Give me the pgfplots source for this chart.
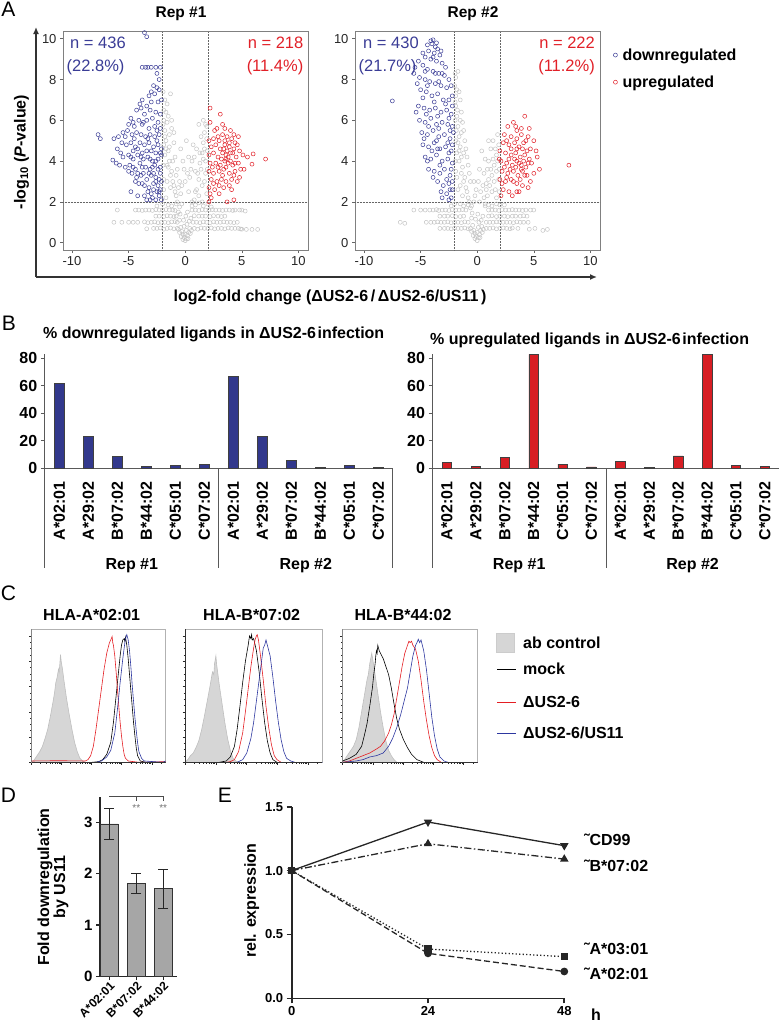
\documentclass[border=0pt]{standalone}
\usepackage{pgfplots}
\pgfplotsset{compat=1.18}
\usepackage{fontspec}
\setmainfont{Liberation Sans}
\usetikzlibrary{arrows.meta}
\newcommand{\fs}[1]{\fontsize{#1}{#1}\selectfont}
\definecolor{vblue}{RGB}{58,60,150}
\definecolor{vred}{RGB}{225,32,40}
\definecolor{vgray}{RGB}{196,196,196}
\definecolor{bblue}{RGB}{50,56,140}
\definecolor{bred}{RGB}{215,30,36}
\definecolor{hblue}{RGB}{45,55,160}
\definecolor{hred}{RGB}{228,30,35}
\pgfplotsset{
  volc/.style={scale only axis, width=245pt, height=219pt, anchor=south west,
    xmin=-10.8, xmax=10.85, ymin=-0.36, ymax=10.38,
    xtick={-10,-5,0,5,10}, xticklabels={-10,-5,0,5,10},
    ytick={0,2,4,6,8,10}, yticklabels={0,2,4,6,8,10},
    tick align=outside, tick pos=left, major tick length=3pt,
    axis line style={black!50, line width=0.6pt}, tick style={black!60, line width=0.6pt},
    tick label style={font=\fs{13}, text=black!85},
    every axis plot/.append style={only marks, mark=o, mark size=2pt, mark options={line width=0.5pt}}},
  barax/.style={scale only axis, height=114.8pt, anchor=south west,
    xmin=-0.5, xmax=11.5, ymin=0, ymax=83.5,
    axis lines=left, axis line style={-, black!65, line width=0.8pt},
    xtick={0,...,11},
    xticklabels={A*02:01,A*29:02,B*07:02,B*44:02,C*05:01,C*07:02,A*02:01,A*29:02,B*07:02,B*44:02,C*05:01,C*07:02},
    xtick style={draw=none},
    ytick={0,20,40,60,80}, yticklabels={0,20,40,60,80},
    ytick style={black!65, line width=0.8pt}, tick align=outside, major tick length=4pt,
    xticklabel style={rotate=90, anchor=east, font=\bfseries\fs{16}},
    yticklabel style={font=\bfseries\fs{16}},
    xticklabel shift=6pt, clip=false},
  hist/.style={scale only axis, height=133pt, anchor=south west,
    xmin=0, xmax=1, ymin=0, ymax=1,
    axis line style={black!30, line width=0.6pt},
    tick align=outside, tick pos=left, major tick length=2.5pt, minor tick length=1.5pt,
    tick style={black!85, line width=0.5pt},
    xtick={0,0.224,0.448,0.672,0.896}, xticklabels={},
    minor xtick={0.0674,0.1069,0.1349,0.1566,0.1743,0.1893,0.2023,0.2138,
      0.2914,0.3309,0.3589,0.3806,0.3983,0.4133,0.4263,0.4378,
      0.5154,0.5549,0.5829,0.6046,0.6223,0.6373,0.6503,0.6618,
      0.7394,0.7789,0.8069,0.8286,0.8463,0.8613,0.8743,0.8858,0.9634},
    ytick={0,0.19,0.38,0.57,0.76,0.95}, yticklabels={}, minor y tick num=3,
    every axis plot/.append style={line width=0.6pt}},
}
\begin{document}
\begin{tikzpicture}
\path[use as bounding box] (0,0) rectangle (780pt,-1031pt);

% ---------------- Panel A ----------------
\draw[black!80, line width=1.4pt, -{Latex[length=7pt,width=6pt]}] (36pt,-277pt) -- (36pt,-27pt);
\draw[black!80, line width=1.4pt, -{Latex[length=7pt,width=6pt]}] (36pt,-277pt) -- (597pt,-277pt);

\begin{axis}[volc, at={(63pt,-250pt)}]
\addplot[vgray, forget plot] coordinates {
(0,0.1)(0.1,0.2)(-0.1,0.25)(0.2,0.35)(-0.2,0.4)(0.3,0.5)(-0.3,0.55)(0.4,0.7)(-0.4,0.75)(0,0.4)(0.1,0.6)(-0.1,0.8)
(-2.8,0.7)(-2.2,0.72)(-1.6,0.7)(-1.0,0.68)(0.8,0.7)(1.4,0.72)(2.0,0.7)(2.6,0.68)(3.2,0.7)(3.8,0.72)(4.4,0.7)(5.0,0.66)(5.4,0.65)(4.9,0.67)
(-5.0,1.0)(-4.2,1.0)(-3.6,1.02)(-3.0,1.0)(-2.4,0.98)(-1.8,1.0)(-1.2,1.02)(-0.7,1.0)(0.7,1.0)(1.3,0.98)(1.9,1.0)(2.5,1.02)(3.1,1.0)(3.7,1.0)(4.3,0.98)
(-2.6,1.3)(-1.9,1.28)(-1.3,1.3)(-0.8,1.3)(0.8,1.32)(1.5,1.3)(2.2,1.28)(2.9,1.3)(3.5,1.3)
(-4.4,1.6)(-3.8,1.58)(-3.2,1.6)(-2.6,1.62)(-2.0,1.6)(-1.4,1.6)(-0.9,1.58)(0.9,1.6)(1.5,1.62)(2.1,1.6)(2.7,1.6)(3.3,1.58)(3.9,1.6)(4.4,1.6)(5.3,1.55)
(-1.5,1.85)(-0.8,1.9)(0.6,1.8)(1.2,1.95)(-2.5,1.8)(2.3,1.75)
(-0.5,1.1)(-0.6,1.5)(-0.7,2.0)(-0.9,2.5)(-1.1,3.0)(-1.2,3.5)(-1.4,4.0)(-1.5,4.5)(-1.7,5.0)(-1.8,5.5)(-1.9,6.0)(-1.9,6.5)(-1.6,6.8)(-1.3,7.3)(-1.5,6.2)(-1.2,5.6)(-1.0,4.9)(-0.9,4.2)(-0.7,3.6)(-0.5,3.0)(-0.4,2.4)(-1.6,3.8)(-1.8,4.3)(-1.3,2.7)(-1.7,2.2)(-1.9,3.1)(-1.9,4.8)(-1.4,5.3)
(0.5,1.2)(0.6,1.6)(0.8,2.1)(1.0,2.6)(1.2,3.1)(1.4,3.6)(1.6,4.1)(1.7,4.6)(1.9,5.1)(1.8,5.8)(1.2,5.8)(0.6,4.0)(0.4,3.2)(0.7,4.8)(0.9,3.5)(1.5,2.8)(1.8,3.4)(1.9,2.4)(1.6,4.9)(0.3,2.5)(1.3,4.4)
(0.0,3.0)(-0.2,4.0)(0.2,1.5)(-0.3,1.9)(-6.3,1.0)(-5.6,1.0)(-6.0,1.6)(5.0,1.6)(6.4,0.65)(5.9,0.65)
(-0.2,0.15)(0.25,0.2)(-0.35,0.3)(0.45,0.45)(-0.5,0.5)(0.55,0.6)(-0.6,0.65)(0.15,0.9)(-0.15,1.1)(0.05,1.3)(0.35,1.05)(-0.45,1.4)
(-3.4,0.68)(-2.5,0.7)(-1.9,0.66)(-1.3,0.72)(-0.7,0.7)(1.1,0.66)(1.7,0.7)(2.3,0.72)(2.9,0.7)(3.5,0.68)(4.1,0.7)(4.7,0.7)
(-4.6,1.0)(-3.3,0.98)(-2.7,1.02)(-2.1,1.0)(-1.5,0.98)(-0.9,1.03)(1.0,1.0)(1.6,1.02)(2.2,0.98)(2.8,1.0)(3.4,1.02)(4.0,1.0)(4.6,1.0)
(-2.3,1.3)(-1.6,1.32)(-1.0,1.28)(1.2,1.3)(1.8,1.3)(2.5,1.32)(3.2,1.28)
(-4.1,1.6)(-3.5,1.6)(-2.9,1.58)(-2.3,1.6)(-1.7,1.62)(-1.1,1.6)(1.2,1.58)(1.8,1.6)(2.4,1.62)(3.0,1.6)(3.6,1.6)(4.2,1.58)(4.8,1.6)
(-1.2,1.8)(-0.5,1.75)(0.9,1.85)(1.6,1.8)(-2.0,1.9)(2.0,1.9)
(-0.8,2.3)(-1.0,2.8)(-1.3,3.3)(-1.5,3.7)(-1.7,4.6)(-1.8,5.2)(-1.95,5.8)(-1.7,6.4)(-1.8,7.0)(-1.95,7.4)(-1.6,5.9)(-1.4,4.7)(-1.1,4.0)(-0.8,3.3)(-0.6,2.7)(-1.9,2.6)(-1.6,3.0)(-1.95,3.8)(-1.2,6.0)(-1.0,5.4)
(0.6,2.0)(0.9,2.5)(1.1,3.4)(1.3,3.9)(1.5,4.4)(1.8,4.0)(1.95,4.5)(1.7,5.4)(1.4,5.2)(1.0,4.6)(0.8,4.2)(0.5,3.6)(1.7,3.0)(1.95,3.6)(1.2,2.3)(1.5,2.0)(1.9,5.7)(1.6,6.0)
(-0.3,2.8)(0.2,3.4)(-0.1,3.6)(0.3,4.2)(-0.4,4.6)(0.1,5.0)
};
\addplot[vblue] coordinates {
(-3.6,10.3)(-3.4,10.1)(-3.8,8.6)(-3.5,8.6)(-3.3,8.6)(-3.0,8.6)(-2.6,8.6)(-2.2,8.6)(-2.5,8.3)(-2.3,8.0)(-2.8,7.7)(-2.5,7.6)(-2.7,7.3)(-3.2,7.2)(-3.8,7.0)(-2.1,7.0)(-3.0,6.9)
(-4.3,6.5)(-3.9,6.6)(-3.6,6.3)(-3.1,6.5)(-2.6,6.4)(-2.2,6.3)(-4.8,6.1)(-4.1,6.0)(-3.4,6.0)(-2.9,6.1)(-2.4,5.9)(-5.0,5.8)(-4.5,5.7)(-3.8,5.8)(-3.2,5.6)(-2.7,5.7)(-2.2,5.6)
(-7.7,5.3)(-7.5,5.1)(-6.3,5.1)(-5.9,5.2)(-5.5,5.4)(-5.1,5.5)(-4.7,5.3)(-4.3,5.4)(-3.9,5.3)(-3.5,5.2)(-3.1,5.3)(-2.7,5.2)(-2.3,5.3)(-5.6,4.9)(-5.2,4.8)(-4.8,4.9)(-4.4,4.7)(-4.0,4.9)(-3.6,4.8)(-3.2,4.9)(-2.8,4.7)(-2.4,4.8)(-2.1,4.6)(-6.0,4.6)(-4.6,4.5)(-3.0,4.5)(-3.8,4.4)(-2.6,4.4)
(-6.4,4.05)(-6.1,3.9)(-5.8,3.8)(-5.5,4.2)(-5.0,4.3)(-4.6,4.1)(-4.2,4.3)(-3.7,4.1)(-3.3,4.2)(-2.9,4.0)(-2.4,4.1)(-2.1,4.3)(-5.3,3.7)(-4.9,3.8)(-4.4,3.6)(-4.0,3.9)(-3.5,3.7)(-3.1,3.6)(-2.7,3.8)(-2.2,3.7)
(-4.7,3.4)(-4.3,3.2)(-3.9,3.3)(-3.4,3.1)(-3.0,3.3)(-2.6,3.2)(-2.2,3.4)(-4.1,2.9)(-3.6,2.8)(-3.2,2.7)(-2.8,2.9)(-2.4,2.8)(-2.1,3.0)(-4.8,2.5)(-3.0,2.4)(-2.5,2.5)(-2.2,2.6)
(-3.4,2.1)(-2.9,2.2)(-2.6,2.1)(-2.3,2.3)(-2.1,2.1)(-3.6,2.3)
(-4.0,6.8)(-3.4,6.7)(-2.4,6.9)(-3.0,7.4)(-2.3,7.5)(-4.6,5.9)(-3.7,5.9)(-2.5,5.5)(-5.3,5.2)(-4.5,5.1)(-3.3,5.1)(-2.5,5.0)(-4.2,4.6)(-3.4,4.5)(-2.2,4.4)(-5.7,4.4)(-4.8,4.2)(-3.9,4.2)(-3.1,4.1)(-2.6,4.0)(-4.6,3.7)(-3.8,3.7)(-2.9,3.7)(-2.4,3.6)(-5.0,3.5)(-4.2,3.4)(-3.7,3.4)(-3.2,3.4)(-2.8,3.4)(-2.3,3.1)(-4.4,3.0)(-3.8,2.9)(-2.6,3.0)(-3.3,2.5)(-2.8,2.6)(-2.3,2.5)(-4.2,2.3)(-3.1,2.1)
};
\addplot[vred] coordinates {
(2.2,6.6)(3.1,6.3)(2.2,5.9)(2.6,5.5)(3.5,5.6)(4.7,5.2)(6.0,4.35)(7.1,4.1)(5.5,4.2)(5.9,3.85)(4.3,2.1)(3.7,2.0)(3.0,2.4)(2.3,2.2)(2.1,2.0)
(2.1,5.0)(2.5,5.1)(2.9,5.2)(3.3,5.3)(3.7,5.2)(4.1,5.1)(4.4,4.9)(2.3,4.7)(2.7,4.8)(3.1,4.6)(3.5,4.8)(3.9,4.7)(4.3,4.6)(4.8,4.5)(2.1,4.3)(2.5,4.4)(2.9,4.2)(3.3,4.4)(3.6,4.3)(3.8,4.2)(4.0,4.4)(4.5,4.2)(5.1,4.3)
(2.2,3.9)(2.7,3.9)(3.1,3.8)(3.5,4.0)(3.8,3.9)(4.2,3.8)(4.7,3.9)(5.2,3.6)(2.1,3.5)(2.5,3.4)(3.0,3.5)(3.4,3.6)(3.9,3.4)(4.4,3.5)(2.3,3.1)(2.8,3.0)(3.2,3.1)(3.6,3.0)(4.1,3.1)(4.6,3.0)(2.1,2.7)(2.6,2.6)(3.4,2.7)(3.9,2.8)
(3.3,5.8)(2.8,5.6)(4.0,5.5)(4.3,5.3)(3.0,5.0)(3.5,5.0)(3.9,4.9)(4.6,4.8)(3.4,4.6)(3.7,4.5)(4.2,4.4)(3.2,4.1)(3.6,4.1)(4.0,4.0)(4.4,3.9)(2.9,3.7)(3.6,3.7)(4.9,3.6)(2.4,3.7)(3.3,3.3)(4.3,3.3)(2.5,2.9)(3.0,2.8)(2.2,2.4)(4.1,2.6)(4.8,3.2)
};
\draw[black!60, densely dotted, line width=0.5pt] (axis cs:-2,-0.36) -- (axis cs:-2,10.38);
\draw[black!60, densely dotted, line width=0.5pt] (axis cs:2,-0.36) -- (axis cs:2,10.38);
\draw[black!60, densely dotted, line width=0.5pt] (axis cs:-10.8,2) -- (axis cs:10.85,2);
\end{axis}

\begin{axis}[volc, at={(355pt,-250pt)},
  legend style={at={(1.041,0.93)}, anchor=north west, draw=none, fill=none, font=\bfseries\fs{16}, row sep=10pt, inner sep=0pt},
  legend cell align=left,
  legend image code/.code={\path (0pt,-8pt) (10pt,8pt); \draw[#1] plot coordinates {(5pt,0pt)};}]
\addplot[vgray, forget plot] coordinates {
(0,0.1)(0.1,0.25)(-0.1,0.3)(0.2,0.4)(-0.2,0.45)(0.3,0.6)(-0.3,0.6)(0.4,0.8)(-0.4,0.85)(0,0.5)(0.1,0.75)
(-3.3,0.7)(-2.6,0.7)(-2.0,0.72)(-1.4,0.7)(-0.8,0.68)(0.8,0.7)(1.4,0.72)(2.0,0.7)(2.6,0.7)(3.1,0.72)(5.1,0.7)(5.8,0.6)(6.2,0.65)
(-6.4,0.95)(-4.5,1.0)(-3.8,1.0)(-3.2,1.0)(-2.6,1.02)(-2.0,1.0)(-1.4,0.98)(-0.8,1.0)(0.8,1.0)(1.4,1.0)(2.0,1.02)(2.6,1.0)(3.2,0.98)(3.8,1.0)(4.5,1.0)
(-3.3,1.3)(-2.6,1.3)(-1.9,1.28)(-1.2,1.3)(1.0,1.3)(1.7,1.28)(2.4,1.3)(3.1,1.3)(3.8,1.3)(4.4,1.3)
(-4.6,1.6)(-3.9,1.6)(-3.4,1.58)(-2.8,1.6)(-2.2,1.62)(-1.6,1.6)(-1.0,1.6)(1.0,1.6)(1.6,1.6)(2.2,1.62)(2.8,1.6)(3.4,1.6)(4.0,1.58)(4.7,1.6)(-6.8,1.0)
(-1.5,1.9)(-0.8,1.85)(0.7,1.9)(1.3,1.8)(-2.3,1.8)(2.4,1.85)
(-0.5,1.2)(-0.6,1.7)(-0.8,2.2)(-1.0,2.7)(-1.1,3.2)(-1.3,3.7)(-1.4,4.2)(-1.5,4.7)(-1.6,5.2)(-1.7,5.7)(-1.8,6.2)(-1.9,6.7)(-1.9,7.2)(-2.0,7.7)(-1.9,8.1)(-1.7,8.4)(-1.6,7.4)(-1.4,6.4)(-1.2,5.5)(-1.0,4.6)(-0.8,3.8)(-0.6,3.0)(-1.9,3.5)(-1.8,4.4)(-1.7,2.6)(-1.3,2.3)(-1.9,5.0)(-1.5,6.0)
(0.5,1.3)(0.7,1.8)(0.9,2.3)(1.1,2.8)(1.3,3.3)(1.5,3.8)(1.7,4.3)(1.9,4.8)(1.8,5.3)(0.4,4.5)(1.0,4.0)(1.6,2.6)(1.9,3.1)(0.6,3.4)(0.8,2.9)(1.4,5.0)(0.2,2.0)
(-0.1,2.6)(0.1,3.0)(-0.3,2.0)
(-0.2,0.2)(0.25,0.25)(-0.35,0.35)(0.45,0.5)(-0.5,0.55)(0.55,0.65)(-0.6,0.7)(0.15,1.0)(-0.15,1.15)(0.05,1.4)(0.35,1.1)(-0.45,1.45)
(-2.9,0.7)(-2.3,0.68)(-1.7,0.7)(-1.1,0.72)(1.1,0.7)(1.7,0.68)(2.3,0.72)(2.9,0.68)(4.6,0.66)(3.6,0.7)
(-4.1,1.0)(-3.5,1.02)(-2.9,1.0)(-2.3,0.98)(-1.7,1.0)(-1.1,1.02)(1.1,1.0)(1.7,1.02)(2.3,1.0)(2.9,1.0)(3.5,1.02)(4.1,1.0)
(-2.9,1.3)(-2.2,1.32)(-1.5,1.28)(1.3,1.32)(2.0,1.3)(2.7,1.28)(3.4,1.3)(4.1,1.32)
(-4.2,1.6)(-3.6,1.62)(-3.1,1.6)(-2.5,1.58)(-1.9,1.6)(-1.3,1.62)(1.3,1.6)(1.9,1.58)(2.5,1.6)(3.1,1.62)(3.7,1.6)(4.3,1.6)(5.0,1.6)(-5.6,1.6)(-5.0,1.6)
(-1.2,1.8)(-0.5,1.8)(1.0,1.85)(1.7,1.9)(-2.0,1.9)(2.0,1.85)
(-0.7,2.0)(-0.9,2.5)(-1.2,3.0)(-1.4,3.4)(-1.6,4.0)(-1.7,4.9)(-1.85,5.5)(-1.95,6.0)(-1.75,6.5)(-1.95,6.9)(-1.8,7.5)(-1.95,8.3)(-1.5,7.0)(-1.3,5.9)(-1.1,5.0)(-0.9,4.2)(-0.7,3.4)(-1.5,2.8)(-1.8,3.2)(-1.95,4.0)(-1.6,4.5)(-1.4,5.4)(-1.2,4.4)
(0.6,2.2)(0.8,2.6)(1.0,3.1)(1.2,3.6)(1.4,4.1)(1.6,4.6)(1.8,4.0)(1.95,3.6)(1.7,3.5)(1.5,3.0)(1.3,2.5)(0.9,3.6)(0.7,4.1)(1.2,4.6)(1.7,2.2)(1.95,2.5)(0.5,2.8)(1.0,5.0)
(-0.3,3.0)(0.2,3.6)(-0.2,2.3)(0.3,2.5)
};
\addplot[vblue] coordinates {
(-4.1,9.9)(-3.9,9.95)(-4.0,9.75)(-3.7,9.6)(-3.5,9.5)(-4.3,9.4)(-3.8,9.3)(-3.3,9.2)(-4.6,9.1)(-4.1,9.0)(-3.6,8.9)(-3.1,8.8)(-5.5,8.6)(-5.2,8.9)(-4.8,8.7)(-4.4,8.5)(-3.9,8.4)(-3.4,8.3)(-2.9,8.2)(-5.6,8.3)(-5.1,8.1)(-4.6,8.0)(-4.2,7.9)(-3.7,7.8)(-3.2,7.7)(-2.7,7.6)(-7.5,6.95)(-5.0,7.5)(-4.5,7.4)(-4.0,7.2)(-3.5,7.3)(-3.0,7.0)(-2.5,7.0)(-2.2,7.2)
(-5.2,6.7)(-4.7,6.6)(-4.2,6.5)(-3.7,6.6)(-3.2,6.4)(-2.7,6.5)(-2.3,6.3)(-5.1,6.0)(-4.6,5.9)(-4.1,6.1)(-3.6,5.8)(-3.1,5.9)(-2.6,5.8)(-2.2,5.7)(-4.9,5.4)(-4.4,5.3)(-3.9,5.5)(-3.4,5.2)(-2.9,5.3)(-2.4,5.1)(-2.1,5.4)
(-4.8,4.8)(-4.3,4.7)(-3.8,4.9)(-3.3,4.6)(-2.8,4.7)(-2.3,4.5)(-4.6,4.2)(-4.1,4.1)(-3.6,4.3)(-3.1,4.0)(-2.6,4.1)(-2.2,3.9)(-4.3,3.6)(-3.8,3.5)(-3.3,3.4)(-2.9,3.6)(-2.4,3.3)(-3.5,3.0)(-3.0,2.8)(-2.5,2.9)(-2.2,2.6)(-2.7,2.4)(-2.3,2.2)(-3.2,2.5)(-2.5,2.1)
(-4.4,9.7)(-3.6,9.8)(-3.2,9.4)(-4.8,9.3)(-3.9,9.1)(-2.8,8.6)(-4.6,8.4)(-3.7,8.3)(-3.1,8.3)(-2.5,8.0)(-5.3,7.8)(-4.4,7.7)(-3.4,7.9)(-2.3,7.7)(-4.8,7.1)(-3.8,6.9)(-2.8,6.8)(-2.2,6.7)(-4.5,6.3)(-3.5,6.2)(-2.5,6.1)(-5.4,6.4)(-4.3,5.7)(-3.4,5.6)(-2.4,5.5)(-4.7,5.1)(-3.6,5.0)(-2.6,4.9)(-2.2,4.8)(-4.0,4.5)(-3.5,4.6)(-2.5,4.4)(-4.4,4.0)(-3.3,3.8)(-2.3,3.6)(-3.9,3.2)(-2.7,3.1)(-2.2,3.0)(-3.1,2.2)(-2.4,2.6)
};
\addlegendentry{downregulated}
\addplot[vred] coordinates {
(3.2,5.9)(4.2,6.2)(2.7,5.7)(3.5,5.5)(4.6,5.6)(2.4,5.3)(3.0,5.2)(3.9,5.3)(4.5,5.2)(5.0,5.0)(2.3,4.9)(2.8,4.8)(3.3,4.9)(3.7,4.7)(4.1,4.9)(4.7,4.6)(5.2,4.5)(2.0,4.5)(2.5,4.4)(3.0,4.3)(3.4,4.4)(3.8,4.2)(4.2,4.3)(4.6,4.1)(5.3,4.2)
(2.1,4.0)(2.6,3.9)(3.1,3.8)(3.5,4.0)(3.9,3.8)(4.3,3.7)(4.8,3.9)(5.5,3.6)(2.2,3.5)(2.7,3.4)(3.2,3.5)(3.6,3.3)(4.0,3.5)(4.4,3.3)(5.0,3.4)(2.0,3.1)(2.5,3.0)(3.0,3.1)(3.5,2.9)(4.0,2.8)(4.5,2.7)(2.3,2.6)(2.8,2.5)(3.1,2.3)(3.7,2.5)(8.1,3.8)(1.95,4.1)
(3.4,5.7)(3.9,5.6)(2.6,5.0)(3.5,5.1)(4.3,5.0)(3.0,4.6)(3.5,4.6)(4.0,4.6)(4.4,4.5)(2.8,4.1)(3.3,4.1)(3.7,3.9)(4.1,4.0)(4.5,3.9)(2.4,3.7)(2.9,3.6)(3.4,3.7)(3.9,3.6)(4.2,3.3)(2.6,3.2)(3.2,3.0)(3.8,3.1)(4.7,3.0)(2.2,2.9)(3.5,2.5)(2.1,2.3)
};
\addlegendentry{upregulated}
\draw[black!60, densely dotted, line width=0.5pt] (axis cs:-2,-0.36) -- (axis cs:-2,10.38);
\draw[black!60, densely dotted, line width=0.5pt] (axis cs:2,-0.36) -- (axis cs:2,10.38);
\draw[black!60, densely dotted, line width=0.5pt] (axis cs:-10.8,2) -- (axis cs:10.85,2);
\end{axis}

\node[font=\fs{21}] at (8.5pt,-9.5pt) {A};
\node[font=\bfseries\fs{15.5}] at (181pt,-13.5pt) {Rep \#1};
\node[font=\bfseries\fs{15.5}] at (473pt,-13.5pt) {Rep \#2};
\node[font=\fs{16.5}, text=vblue, anchor=west, inner sep=0pt] at (70pt,-42.5pt) {n = 436};
\node[font=\fs{16.5}, text=vblue, anchor=west, inner sep=0pt] at (66.5pt,-67pt) {(22.8\%)};
\node[font=\fs{16.5}, text=vred, anchor=east, inner sep=0pt] at (303.5pt,-42.5pt) {n = 218};
\node[font=\fs{16.5}, text=vred, anchor=east, inner sep=0pt] at (303.5pt,-67pt) {(11.4\%)};
\node[font=\fs{16.5}, text=vblue, anchor=west, inner sep=0pt] at (363pt,-42.5pt) {n = 430};
\node[font=\fs{16.5}, text=vblue, anchor=west, inner sep=0pt] at (358.5pt,-67pt) {(21.7\%)};
\node[font=\fs{16.5}, text=vred, anchor=east, inner sep=0pt] at (595pt,-42.5pt) {n = 222};
\node[font=\fs{16.5}, text=vred, anchor=east, inner sep=0pt] at (595pt,-67pt) {(11.2\%)};
\node[font=\bfseries\fs{16}, rotate=90] at (21.5pt,-152pt) {-log\textsubscript{10} (\textit{P}-value)};
\node[font=\bfseries\fs{16}] at (330pt,-297pt) {log2-fold change (ΔUS2-6\,/\,ΔUS2-6/US11\,)};

% ---------------- Panel B ----------------
\begin{axis}[barax, width=348pt, at={(44.8pt,-468.3pt)}]
\addplot[ybar, bar width=9.5pt, fill=bblue, draw=black!75, line width=0.6pt] coordinates {
(0,61.8)(1,23.3)(2,8.7)(3,1.2)(4,2.1)(5,2.6)(6,66.9)(7,23.5)(8,5.8)(9,0.6)(10,1.9)(11,0.7)};
\draw[black!65, line width=0.8pt] (axis cs:-0.5,0) -- ++(0pt,-100pt);
\draw[black!65, line width=0.8pt] (axis cs:5.5,0) -- ++(0pt,-100pt);
\draw[black!65, line width=0.8pt] (axis cs:11.5,0) -- ++(0pt,-100pt);
\node[font=\bfseries\fs{16}] at ([yshift=-97pt]axis cs:2.5,0) {Rep \#1};
\node[font=\bfseries\fs{16}] at ([yshift=-97pt]axis cs:8.5,0) {Rep \#2};
\end{axis}

\begin{axis}[barax, width=346.8pt, at={(432.5pt,-468.3pt)}]
\addplot[ybar, bar width=9.5pt, fill=bred, draw=black!75, line width=0.6pt] coordinates {
(0,4.4)(1,1.5)(2,8.2)(3,82.9)(4,3.0)(5,1.0)(6,4.8)(7,0.6)(8,9.0)(9,83.1)(10,2.1)(11,1.6)};
\draw[black!65, line width=0.8pt] (axis cs:-0.5,0) -- ++(0pt,-100pt);
\draw[black!65, line width=0.8pt] (axis cs:5.5,0) -- ++(0pt,-100pt);
\node[font=\bfseries\fs{16}] at ([yshift=-97pt]axis cs:2.5,0) {Rep \#1};
\node[font=\bfseries\fs{16}] at ([yshift=-97pt]axis cs:8.5,0) {Rep \#2};
\end{axis}

\node[font=\fs{21}] at (9pt,-323pt) {B};
\node[font=\bfseries\fs{16}, anchor=west, inner sep=0pt] at (43pt,-334pt) {\% downregulated ligands in ΔUS2-6\hspace{1.5pt}infection};
\node[font=\bfseries\fs{16}, anchor=west, inner sep=0pt] at (430pt,-340pt) {\% upregulated ligands in ΔUS2-6\hspace{1.5pt}infection};

% ---------------- Panel C ----------------
\begin{axis}[hist, width=134pt, at={(31.7pt,-762.3pt)}]
\addplot[fill=black!16, draw=black!25] coordinates {
(0,0)(0.02,0.02)(0.04,0.05)(0.06,0.08)(0.08,0.12)(0.10,0.18)(0.12,0.25)(0.14,0.35)(0.16,0.46)(0.17,0.52)(0.18,0.60)(0.19,0.64)(0.20,0.70)(0.205,0.68)(0.21,0.74)(0.215,0.81)(0.22,0.76)(0.23,0.70)(0.24,0.62)(0.25,0.55)(0.26,0.48)(0.28,0.36)(0.30,0.25)(0.32,0.15)(0.34,0.08)(0.36,0.03)(0.38,0.01)(0.40,0)} \closedcycle;
\addplot[black] coordinates {
(0.45,0)(0.50,0.005)(0.53,0.02)(0.56,0.06)(0.59,0.15)(0.61,0.30)(0.63,0.50)(0.65,0.70)(0.66,0.80)(0.67,0.88)(0.68,0.92)(0.69,0.93)(0.695,0.91)(0.70,0.94)(0.71,0.88)(0.72,0.78)(0.73,0.66)(0.74,0.54)(0.75,0.42)(0.76,0.30)(0.77,0.20)(0.78,0.11)(0.79,0.05)(0.81,0.01)(0.85,0)(1,0)};
\addplot[hred] coordinates {
(0,0.01)(0.2,0.012)(0.40,0.01)(0.42,0.02)(0.44,0.05)(0.46,0.12)(0.48,0.25)(0.50,0.40)(0.52,0.55)(0.54,0.70)(0.56,0.82)(0.57,0.86)(0.58,0.90)(0.59,0.92)(0.60,0.945)(0.605,0.90)(0.61,0.88)(0.62,0.80)(0.63,0.68)(0.64,0.55)(0.65,0.42)(0.66,0.30)(0.67,0.20)(0.68,0.12)(0.69,0.06)(0.70,0.03)(0.72,0.01)(0.8,0)(1,0.005)};
\addplot[hblue] coordinates {
(0.48,0)(0.52,0.01)(0.56,0.04)(0.59,0.09)(0.62,0.22)(0.64,0.40)(0.66,0.60)(0.68,0.78)(0.69,0.86)(0.70,0.93)(0.71,0.96)(0.72,0.92)(0.73,0.84)(0.74,0.72)(0.75,0.58)(0.76,0.46)(0.77,0.34)(0.78,0.24)(0.79,0.15)(0.80,0.08)(0.82,0.03)(0.84,0.01)(0.98,0)(1,0.01)};
\draw[black!80, line width=0.6pt] (rel axis cs:0,1) -- (rel axis cs:0,0) -- (rel axis cs:1,0);
\end{axis}

\begin{axis}[hist, width=137.3pt, at={(185pt,-762.3pt)}]
\addplot[fill=black!16, draw=black!25] coordinates {
(0,0)(0.02,0.02)(0.04,0.05)(0.06,0.07)(0.08,0.11)(0.10,0.16)(0.12,0.24)(0.14,0.34)(0.16,0.45)(0.18,0.56)(0.19,0.62)(0.20,0.68)(0.21,0.66)(0.215,0.74)(0.225,0.80)(0.23,0.74)(0.24,0.66)(0.25,0.58)(0.27,0.44)(0.29,0.30)(0.31,0.18)(0.33,0.09)(0.35,0.03)(0.37,0.01)(0.39,0)} \closedcycle;
\addplot[black] coordinates {
(0.25,0)(0.30,0.01)(0.33,0.04)(0.36,0.12)(0.38,0.25)(0.40,0.42)(0.42,0.60)(0.44,0.76)(0.46,0.88)(0.47,0.95)(0.48,0.93)(0.485,0.96)(0.49,0.92)(0.50,0.93)(0.52,0.84)(0.54,0.68)(0.56,0.48)(0.58,0.30)(0.60,0.16)(0.62,0.07)(0.64,0.02)(0.67,0)};
\addplot[hred] coordinates {
(0.30,0)(0.33,0.005)(0.36,0.02)(0.39,0.08)(0.42,0.22)(0.44,0.38)(0.46,0.55)(0.48,0.72)(0.50,0.86)(0.51,0.92)(0.52,0.95)(0.526,0.96)(0.535,0.92)(0.55,0.80)(0.57,0.62)(0.59,0.42)(0.61,0.26)(0.63,0.13)(0.65,0.05)(0.67,0.02)(0.70,0)};
\addplot[hblue] coordinates {
(0.38,0)(0.42,0.02)(0.45,0.07)(0.48,0.18)(0.50,0.30)(0.52,0.46)(0.54,0.62)(0.56,0.78)(0.57,0.86)(0.58,0.88)(0.59,0.92)(0.60,0.88)(0.62,0.80)(0.64,0.64)(0.66,0.46)(0.68,0.30)(0.70,0.17)(0.72,0.08)(0.74,0.03)(0.77,0.01)(0.80,0)(1,0)};
\draw[black!80, line width=0.6pt] (rel axis cs:0,1) -- (rel axis cs:0,0) -- (rel axis cs:1,0);
\end{axis}

\begin{axis}[hist, width=135pt, at={(342.7pt,-762.3pt)}]
\addplot[fill=black!16, draw=black!25] coordinates {
(0,0)(0.02,0.03)(0.04,0.06)(0.06,0.09)(0.08,0.12)(0.10,0.17)(0.12,0.26)(0.14,0.38)(0.16,0.50)(0.18,0.62)(0.19,0.66)(0.20,0.74)(0.215,0.82)(0.225,0.76)(0.24,0.66)(0.26,0.52)(0.28,0.38)(0.30,0.26)(0.32,0.16)(0.34,0.09)(0.36,0.05)(0.38,0.02)(0.40,0)} \closedcycle;
\addplot[black] coordinates {
(0,0.01)(0.05,0.03)(0.10,0.06)(0.14,0.12)(0.16,0.20)(0.18,0.29)(0.20,0.42)(0.22,0.56)(0.23,0.66)(0.24,0.74)(0.245,0.80)(0.25,0.84)(0.255,0.82)(0.26,0.88)(0.27,0.84)(0.28,0.82)(0.30,0.78)(0.32,0.72)(0.34,0.66)(0.36,0.56)(0.38,0.44)(0.40,0.33)(0.42,0.25)(0.45,0.17)(0.48,0.11)(0.51,0.06)(0.55,0.02)(0.60,0)(1,0)};
\addplot[hred] coordinates {
(0,0)(0.05,0.01)(0.10,0.03)(0.15,0.05)(0.20,0.07)(0.25,0.10)(0.28,0.12)(0.31,0.16)(0.34,0.22)(0.36,0.28)(0.38,0.36)(0.40,0.48)(0.42,0.60)(0.44,0.72)(0.46,0.82)(0.48,0.88)(0.49,0.91)(0.50,0.90)(0.51,0.91)(0.52,0.88)(0.54,0.85)(0.56,0.76)(0.58,0.62)(0.60,0.46)(0.62,0.32)(0.64,0.20)(0.66,0.11)(0.68,0.05)(0.70,0.02)(0.73,0)(1,0)};
\addplot[hblue] coordinates {
(0,0)(0.10,0.01)(0.15,0.02)(0.20,0.04)(0.25,0.05)(0.30,0.07)(0.34,0.12)(0.37,0.18)(0.40,0.26)(0.43,0.36)(0.46,0.48)(0.48,0.56)(0.50,0.68)(0.52,0.80)(0.54,0.88)(0.55,0.90)(0.56,0.925)(0.57,0.90)(0.58,0.92)(0.60,0.84)(0.62,0.70)(0.64,0.52)(0.66,0.34)(0.68,0.20)(0.70,0.10)(0.72,0.04)(0.75,0.01)(0.78,0)(1,0)};
\draw[black!80, line width=0.6pt] (rel axis cs:0,1) -- (rel axis cs:0,0) -- (rel axis cs:1,0);
\end{axis}

% legend of panel C
\fill[black!16, draw=black!20] (496pt,-633.5pt) rectangle (514.5pt,-652.5pt);
\draw[black, line width=0.8pt] (497pt,-669.5pt) -- (516pt,-669.5pt);
\draw[hred, line width=0.8pt] (497pt,-702pt) -- (516pt,-702pt);
\draw[hblue, line width=0.8pt] (497pt,-733pt) -- (516pt,-733pt);
\node[font=\bfseries\fs{16}, anchor=west, inner sep=0pt] at (523pt,-643pt) {ab control};
\node[font=\bfseries\fs{16}, anchor=west, inner sep=0pt] at (523pt,-669pt) {mock};
\node[font=\bfseries\fs{16}, anchor=west, inner sep=0pt] at (523pt,-701.5pt) {ΔUS2-6};
\node[font=\bfseries\fs{16}, anchor=west, inner sep=0pt] at (523pt,-732.5pt) {ΔUS2-6/US11};

\node[font=\fs{21}] at (8.5pt,-593pt) {C};
\node[font=\bfseries\fs{16}] at (91.7pt,-615pt) {HLA-A*02:01};
\node[font=\bfseries\fs{16}] at (251.7pt,-615pt) {HLA-B*07:02};
\node[font=\bfseries\fs{16}] at (403pt,-615pt) {HLA-B*44:02};

% ---------------- Panel D ----------------
\begin{axis}[scale only axis, width=76.7pt, height=179.6pt, at={(100pt,-976.3pt)}, anchor=south west,
  xmin=0.65, xmax=3.5, ymin=0, ymax=3.5,
  axis lines=left, axis line style={-, line width=1.2pt, black!85},
  xtick={1,2,3}, xticklabels={A*02:01,B*07:02,B*44:02},
  ytick={0,1,2,3}, yticklabels={0,1,2,3},
  tick align=outside, major tick length=4pt, tick style={line width=1.2pt, black!85},
  xticklabel style={rotate=45, anchor=north east, inner sep=0.5pt, font=\bfseries\fs{12}},
  yticklabel style={font=\bfseries\fs{15}},
  clip=false]
\addplot[ybar, bar width=17.6pt, fill=black!35, draw=black!80, line width=0.8pt,
  error bars/.cd, y dir=both, y explicit,
  error bar style={black!85, line width=0.8pt},
  error mark options={rotate=90, mark size=5pt, black!85, line width=0.8pt}]
  coordinates {(1,2.97) +- (0,0.30) (2,1.81) +- (0,0.19) (3,1.71) +- (0,0.38)};
\draw[black!70, line width=0.7pt] (axis cs:1,3.5) -- (axis cs:3,3.5) -- (axis cs:3,3.42);
\draw[black!70, line width=0.7pt] (axis cs:2,3.5) -- (axis cs:2,3.42);
\node[font=\fs{10}, text=black!55] at (axis cs:2,3.27) {**};
\node[font=\fs{10}, text=black!55] at (axis cs:3,3.27) {**};
\end{axis}
\node[font=\fs{21}] at (8.5pt,-795pt) {D};
\node[font=\bfseries\fs{16}, rotate=90, align=center] at (53pt,-887pt) {Fold downregulation\\by US11};

% ---------------- Panel E ----------------
\begin{axis}[scale only axis, width=272.6pt, height=191.6pt, at={(291.7pt,-998.3pt)}, anchor=south west,
  xmin=0, xmax=48, ymin=0, ymax=1.5,
  axis lines=left, axis line style={-, line width=1.6pt, black!85},
  xtick={0,24,48}, xticklabels={0,24,48},
  ytick={0,0.5,1,1.5}, yticklabels={0.0,0.5,1.0,1.5},
  tick align=outside, major tick length=5pt, tick style={line width=1.6pt, black!85},
  xticklabel style={font=\bfseries\fs{13}},
  yticklabel style={font=\bfseries\fs{13}},
  clip=false]
\addplot[black!85, line width=1.3pt, mark=triangle*, mark size=3.6pt, mark options={solid, rotate=180}] coordinates {(0,1)(24,1.38)(48,1.195)};
\addplot[black!85, line width=1.3pt, dash pattern=on 7pt off 2.5pt on 1.5pt off 2.5pt, mark=triangle*, mark size=3.6pt, mark options={solid}] coordinates {(0,1)(24,1.21)(48,1.09)};
\addplot[black!85, line width=1.3pt, dash pattern=on 1.3pt off 2.2pt, mark=square*, mark size=3pt, mark options={solid}] coordinates {(0,1)(24,0.386)(48,0.326)};
\addplot[black!85, line width=1.3pt, dash pattern=on 6pt off 3pt, mark=*, mark size=3.2pt, mark options={solid}] coordinates {(0,1)(24,0.352)(48,0.21)};
\end{axis}
\node[font=\fs{21}] at (225pt,-795pt) {E};
\node[font=\bfseries\fs{16}, rotate=90] at (251.7pt,-900.7pt) {rel. expression};
\node[font=\bfseries\fs{16}] at (596pt,-1015pt) {h};
\node[font=\bfseries\fs{16}, anchor=west, inner sep=0pt] at (584pt,-840pt) {˜CD99};
\node[font=\bfseries\fs{16}, anchor=west, inner sep=0pt] at (584pt,-866pt) {˜B*07:02};
\node[font=\bfseries\fs{16}, anchor=west, inner sep=0pt] at (584pt,-949pt) {˜A*03:01};
\node[font=\bfseries\fs{16}, anchor=west, inner sep=0pt] at (584pt,-973.3pt) {˜A*02:01};
\end{tikzpicture}
\end{document}
